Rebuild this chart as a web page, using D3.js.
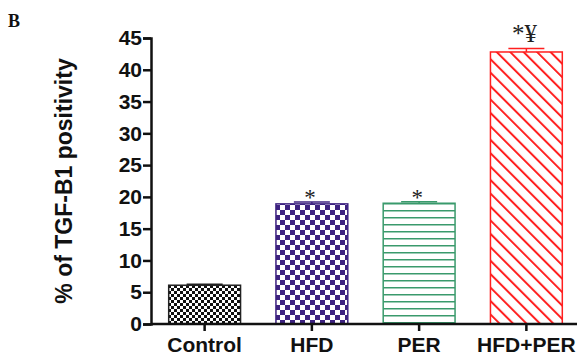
<!DOCTYPE html>
<html>
<head>
<meta charset="utf-8">
<script src="https://cdn.jsdelivr.net/npm/d3@7"></script>
<style>
  body { margin: 0; background: #fff; }
  svg { display: block; }
</style>
</head>
<body>
<div id="chart"></div>
<script>
// Data
const groups = ["Control", "HFD", "PER", "HFD+PER"];
const means = [6.1, 18.9, 19.0, 42.8];
const sems = [0.15, 0.3, 0.25, 0.55];
const marks = ["", "*", "*", "*¥"];
const yTicks = [0, 5, 10, 15, 20, 25, 30, 35, 40, 45];

const width = 577, height = 357;
const colors = ["#222222", "#3d2280", "#3a9a6c", "#ff1f1f"];

const svg = d3.select("#chart").append("svg")
    .attr("width", width)
    .attr("height", height);

const defs = svg.append("defs");

// Control: fine black checker
const p0 = defs.append("pattern").attr("id", "pat0")
    .attr("patternUnits", "userSpaceOnUse").attr("width", 6).attr("height", 6);
p0.append("rect").attr("width", 6).attr("height", 6).attr("fill", "#111");
p0.append("rect").attr("x", 0).attr("y", 0).attr("width", 3).attr("height", 3).attr("fill", "#fff");
p0.append("rect").attr("x", 3).attr("y", 3).attr("width", 3).attr("height", 3).attr("fill", "#fff");

// HFD: purple checker
const p1 = defs.append("pattern").attr("id", "pat1")
    .attr("patternUnits", "userSpaceOnUse").attr("width", 10).attr("height", 10);
p1.append("rect").attr("width", 10).attr("height", 10).attr("fill", "#fff");
p1.append("rect").attr("x", 0).attr("y", 0).attr("width", 5).attr("height", 5).attr("fill", colors[1]);
p1.append("rect").attr("x", 5).attr("y", 5).attr("width", 5).attr("height", 5).attr("fill", colors[1]);

// PER: green horizontal lines
const p2 = defs.append("pattern").attr("id", "pat2")
    .attr("patternUnits", "userSpaceOnUse").attr("width", 10).attr("height", 7);
p2.append("rect").attr("width", 10).attr("height", 7).attr("fill", "#fff");
p2.append("line").attr("x1", 0).attr("x2", 10).attr("y1", 0.75).attr("y2", 0.75)
    .attr("stroke", colors[2]).attr("stroke-width", 1.5);

// HFD+PER: red diagonal lines
const p3 = defs.append("pattern").attr("id", "pat3")
    .attr("patternUnits", "userSpaceOnUse").attr("width", 9.5).attr("height", 10)
    .attr("patternTransform", "rotate(-45)");
p3.append("rect").attr("width", 9.5).attr("height", 10).attr("fill", "#fff");
p3.append("line").attr("x1", 1).attr("x2", 1).attr("y1", 0).attr("y2", 10)
    .attr("stroke", colors[3]).attr("stroke-width", 2);

const x = d3.scaleBand()
    .domain(groups)
    .range([151, 580])
    .paddingInner(0.33)
    .paddingOuter(0.165);

const y = d3.scaleLinear()
    .domain([0, 45])
    .range([324, 38]);

// Bars
const bars = svg.append("g").selectAll("g")
    .data(groups)
    .join("g");

bars.append("rect")
    .attr("x", d => x(d))
    .attr("y", (d, i) => y(means[i]))
    .attr("width", x.bandwidth())
    .attr("height", (d, i) => y(0) - y(means[i]))
    .attr("fill", (d, i) => `url(#pat${i})`)
    .attr("stroke", (d, i) => colors[i])
    .attr("stroke-width", 1.5);

// Error bars (upper only)
bars.append("line")
    .attr("x1", d => x(d) + x.bandwidth() / 2)
    .attr("x2", d => x(d) + x.bandwidth() / 2)
    .attr("y1", (d, i) => y(means[i]))
    .attr("y2", (d, i) => y(means[i] + sems[i]))
    .attr("stroke", (d, i) => colors[i])
    .attr("stroke-width", 1.5);

bars.append("line")
    .attr("x1", d => x(d) + x.bandwidth() / 2 - 18)
    .attr("x2", d => x(d) + x.bandwidth() / 2 + 18)
    .attr("y1", (d, i) => y(means[i] + sems[i]))
    .attr("y2", (d, i) => y(means[i] + sems[i]))
    .attr("stroke", (d, i) => colors[i])
    .attr("stroke-width", 1.5);

// Significance marks
bars.append("text")
    .attr("x", d => x(d) + x.bandwidth() / 2 - 2)
    .attr("y", (d, i) => y(means[i] + sems[i]) + (marks[i].length > 1 ? -6 : 3))
    .attr("text-anchor", "middle")
    .attr("font-family", "'Liberation Serif', 'Times New Roman', serif")
    .attr("font-size", (d, i) => marks[i].length > 1 ? 25 : 23)
    .attr("fill", "#222")
    .text((d, i) => marks[i]);

// Y axis
const yAxis = svg.append("g")
    .attr("transform", "translate(151,0)")
    .call(d3.axisLeft(y).tickValues(yTicks).tickSize(8).tickPadding(1));

// X axis
const xAxis = svg.append("g")
    .attr("transform", `translate(0,${y(0)})`)
    .call(d3.axisBottom(x).tickSize(7).tickPadding(6).tickSizeOuter(0));

[yAxis, xAxis].forEach(ax => {
    ax.select(".domain").attr("stroke", "#111").attr("stroke-width", 2.5);
    ax.selectAll(".tick line").attr("stroke", "#111").attr("stroke-width", 2.5);
    ax.selectAll(".tick text")
        .attr("fill", "#111")
        .attr("font-family", "'Liberation Sans', Arial, sans-serif")
        .attr("font-weight", "bold")
        .attr("font-size", 21);
});
xAxis.select(".domain").attr("d", `M151,0H${width}`);

// Y axis title
svg.append("text")
    .attr("transform", "translate(72,181) rotate(-90)")
    .attr("text-anchor", "middle")
    .attr("font-family", "'Liberation Sans', Arial, sans-serif")
    .attr("font-weight", "bold")
    .attr("font-size", 23)
    .attr("fill", "#111")
    .text("% of TGF-B1 positivity");

// Panel letter
svg.append("text")
    .attr("x", 8)
    .attr("y", 27)
    .attr("font-family", "'Liberation Serif', 'Times New Roman', serif")
    .attr("font-weight", "bold")
    .attr("font-size", 18)
    .attr("fill", "#111")
    .text("B");
</script>
</body>
</html>
